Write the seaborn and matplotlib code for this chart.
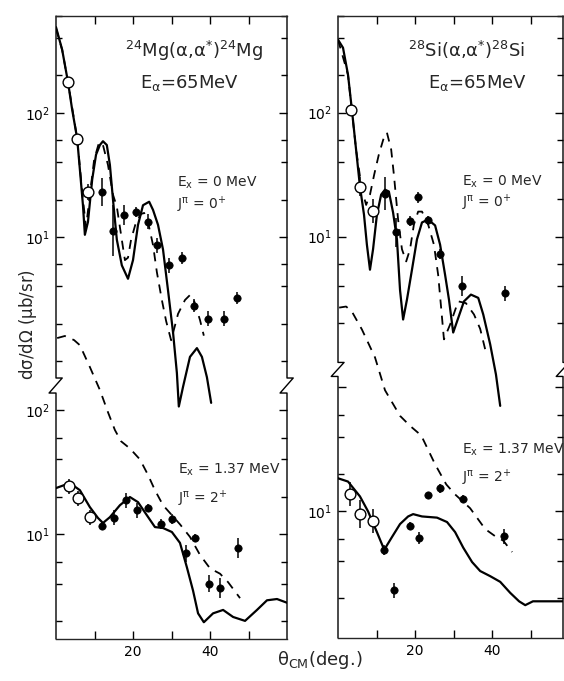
import matplotlib
matplotlib.use("Agg")
import matplotlib.pyplot as plt
import matplotlib.transforms as mtransforms
import numpy as np
import seaborn as sns

# ---------------- 24Mg, Ex = 0 MeV (0+) ----------------
mg0_solid_x = [0, 1.6, 3.1, 4.2, 5.5, 6.2, 7.0, 7.5, 8.3, 9.4, 10.4, 11.4, 12.2, 13.2, 14.0,
               14.8, 15.8, 17.1, 18.7, 20.0, 21.3, 22.6, 24.2, 25.2, 26.5, 27.8, 29.1, 30.4,
               31.4, 31.9, 33.0, 34.8, 36.6, 37.9, 39.2, 40.3]
mg0_solid_y = [490, 322, 178, 106, 62, 35, 18, 10.4, 13.2, 29, 46, 55, 59, 55, 38,
               20, 9.5, 5.9, 4.6, 6.5, 12.5, 18, 19.2, 16.5, 12.5, 7.9, 3.7, 1.7,
               0.8, 0.43, 0.62, 1.08, 1.27, 1.08, 0.74, 0.46]
mg0_dash_x = [0, 1.6, 3.1, 5.5, 7.0, 7.8, 8.8, 9.9, 11.2, 12.2, 13.5, 14.8, 15.8, 16.9, 17.9,
              18.7, 19.5, 20.8, 22.1, 22.9, 23.9, 25.2, 26.2, 27.5, 28.6, 29.9, 31.7, 33.5,
              34.8, 35.8, 37.4, 38.4]
mg0_dash_y = [480, 322, 178, 62, 20, 12, 21.8, 41.8, 58, 55, 38, 21.9, 17.5, 10.4, 6.5,
              6.8, 9.5, 13.2, 15.3, 15.6, 13.2, 8.6, 5.2, 3.1, 2.1, 1.47, 2.4, 3.1,
              3.4, 3.1, 2.14, 1.6]
mg0_open_x = [3.1, 5.5, 8.4]
mg0_open_y = [178, 62, 23]
mg0_open_err = [1.0, 1.0, 1.15]
mg0_fill_x = [11.9, 14.8, 17.7, 20.8, 23.9, 26.2, 29.4, 32.7, 35.8, 39.5, 43.6, 47.0]
mg0_fill_y = [23, 11.2, 15, 15.9, 13.2, 8.6, 5.9, 6.8, 2.8, 2.2, 2.2, 3.2]
mg0_fill_err = [1.3, 1.6, 1.2, 1.1, 1.15, 1.15, 1.15, 1.12, 1.12, 1.15, 1.15, 1.12]

# ---------------- 24Mg, Ex = 1.37 MeV (2+) ----------------
mg2_solid_x = [0, 3.6, 6.2, 8.8, 10.9, 12.2, 14.0, 16.6, 19.2, 21.3, 23.6, 25.7, 27.8, 30.1,
               32.2, 34.0, 35.6, 36.9, 38.4, 40.8, 43.4, 46.0, 49.1, 52.2, 54.8, 57.4, 60]
mg2_solid_y = [23.5, 25.8, 22.6, 16.5, 13.5, 12.3, 13.7, 17.1, 19.9, 18.1, 14.2, 11.4, 11.2, 10.4,
               8.5, 5.4, 3.5, 2.3, 1.95, 2.3, 2.45, 2.15, 2.0, 2.45, 2.93, 3.0, 2.8]
mg2_dash_x = [0.3, 2.3, 4.7, 6.2, 8.8, 11.4, 13.5, 15.3, 16.9, 19.2, 21.8, 23.9, 25.7, 27.8,
              29.6, 32.2, 34.8, 37.4, 40.0, 42.6, 44.7, 47.8]
mg2_dash_y = [380, 395, 366, 333, 222, 145, 96, 69, 56, 49, 40, 30, 22.6, 17.1,
              14.8, 12, 9.5, 6.8, 5.3, 4.8, 4.1, 3.05]
mg2_open_x = [3.4, 5.8, 8.8]
mg2_open_y = [24.4, 19.5, 13.7]
mg2_open_err = [1.15, 1.15, 1.15]
mg2_fill_x = [12.0, 15.1, 18.2, 21.1, 24.0, 27.2, 30.2, 33.7, 36.1, 39.8, 42.6, 47.2]
mg2_fill_y = [11.6, 13.5, 18.8, 15.6, 16.2, 12.0, 13.2, 7.0, 9.3, 4.0, 3.7, 7.7]
mg2_fill_err = [1.08, 1.15, 1.15, 1.15, 1.08, 1.1, 1.1, 1.17, 1.08, 1.17, 1.2, 1.2]

# ---------------- 28Si, Ex = 0 MeV (0+) ----------------
si0_solid_x = [0, 1.3, 2.6, 3.6, 4.7, 5.7, 6.75, 7.5, 8.3, 9.1, 10.1, 11.2, 12.2, 13.2, 14.3,
               15.3, 16.1, 16.9, 17.9, 19.2, 20.5, 21.8, 23.4, 25.2, 26.5, 27.8, 28.8, 29.9,
               31.2, 32.7, 34.5, 36.4, 37.7, 39.5, 41.0, 42.1]
si0_solid_y = [388, 334, 202, 106, 50, 25.3, 15, 8.6, 5.4, 7.9, 15, 21.8, 23.9, 23.1, 15.6,
               9.5, 3.7, 2.14, 3.1, 5.4, 9.5, 13, 13.7, 12.3, 8.6, 4.9, 3.1, 1.68,
               2.2, 3.0, 3.4, 3.2, 2.35, 1.35, 0.77, 0.43]
si0_dash_x = [0, 2.6, 4.7, 6.2, 7.3, 8.3, 9.4, 10.6, 11.9, 12.7, 13.8, 14.5, 15.6, 16.6, 17.7,
              18.7, 19.7, 20.8, 21.8, 23.4, 24.9, 26.0, 26.8, 27.5, 29.1, 31.2, 33.2, 35.3,
              36.9, 38.2]
si0_dash_y = [388, 202, 50, 24, 18, 21.8, 31.7, 45.9, 62.9, 69, 50.4, 31.7, 13.7, 7.9, 6.3,
              7.9, 12.5, 15.9, 15.9, 12.5, 8.6, 4.9, 2.6, 1.48, 1.95, 3.0, 2.9, 2.35,
              1.8, 1.23]
si0_open_x = [3.4, 5.7, 9.1]
si0_open_y = [106, 25.3, 16.2]
si0_open_err = [1.0, 1.2, 1.25]
si0_fill_x = [12.2, 15.1, 18.7, 20.8, 23.4, 26.5, 32.2, 43.4]
si0_fill_y = [22.2, 10.8, 13.3, 20.7, 13.5, 7.2, 4.0, 3.5]
si0_fill_err = [1.35, 1.3, 1.1, 1.1, 1.08, 1.1, 1.2, 1.15]

# ---------------- 28Si, Ex = 1.37 MeV (2+) ----------------
si2_solid_x = [0, 2.6, 5.7, 7.8, 10.1, 12.0, 14.0, 16.1, 18.2, 19.5, 21.8, 25.7, 28.3, 30.4,
               32.5, 34.8, 36.9, 39.5, 42.1, 44.7, 47.0, 48.6, 50.6, 54.3, 59]
si2_solid_y = [18.5, 17.4, 13.2, 10, 6.8, 4.9, 6.2, 7.9, 9.1, 9.5, 9.1, 8.9, 8.2, 6.8,
               5.1, 3.9, 3.3, 3.0, 2.7, 2.2, 1.88, 1.75, 1.88, 1.88, 1.88]
si2_dash_x = [0.3, 2.1, 3.6, 6.2, 9.6, 12.2, 16.1, 18.7, 21.6, 25.2, 28.1, 30.4, 34.3, 38.2,
              40.8, 42.9, 45.2]
si2_dash_y = [441, 450, 410, 294, 175, 95, 59, 49, 41, 24, 16.5, 13.7, 10.6, 7.2,
              6.3, 5.8, 4.7]
si2_open_x = [3.1, 5.7, 9.1]
si2_open_y = [13.7, 9.5, 8.3]
si2_open_err = [1.25, 1.3, 1.25]
si2_fill_x = [12.0, 14.5, 18.7, 21.0, 23.4, 26.5, 32.5, 43.1]
si2_fill_y = [4.9, 2.3, 7.6, 6.1, 13.5, 15.3, 12.7, 6.3]
si2_fill_err = [1.1, 1.15, 1.08, 1.12, 1.06, 1.08, 1.06, 1.15]

# the 2+ block shares the log axis with the 0+ block, shifted down
MG_SHIFT = 10 ** -2.395
SI_SHIFT = 10 ** -2.218
YLIM = (10 ** -2.24, 10 ** 2.78)

sns.set_style("ticks")
plt.rcParams["font.family"] = ["DejaVu Sans"]
plt.rcParams["mathtext.default"] = "regular"

fig = plt.figure(figsize=(5.64, 6.81), dpi=100)
ax_mg = fig.add_axes([56 / 564, 1 - 639 / 681, 231 / 564, 623 / 681])
ax_si = fig.add_axes([338 / 564, 1 - 638 / 681, 225 / 564, 622 / 681])


def draw_block(ax, sx, sy, dx, dy, ox, oy, oe, fx, fy, fe, scale=1.0):
    sns.lineplot(x=sx, y=np.array(sy) * scale, ax=ax, color="k", lw=1.6,
                 sort=False, estimator=None)
    sns.lineplot(x=dx, y=np.array(dy) * scale, ax=ax, color="k", lw=1.3,
                 sort=False, estimator=None, linestyle=(0, (5, 4)))
    for xs, ys, es in ((ox, oy, oe), (fx, fy, fe)):
        ys = np.array(ys) * scale
        es = np.array(es)
        ax.vlines(xs, ys / es, ys * es, color="k", lw=1.1, zorder=4)
    sns.scatterplot(x=ox, y=np.array(oy) * scale, ax=ax, s=60, marker="o",
                    facecolor="white", edgecolor="k", linewidth=1.0, zorder=5)
    sns.scatterplot(x=fx, y=np.array(fy) * scale, ax=ax, s=28, marker="o",
                    color="k", edgecolor="k", linewidth=0.5, zorder=5)


def style_axis(ax, xmax, shift, brk_top, brk_bot, lower_labels):
    ax.set_yscale("log")
    ax.set_ylim(*YLIM)
    ax.set_xlim(0, xmax)
    ax.set_xlabel("")
    ax.set_ylabel("")

    # major ticks: upper block 10^2, 10^1 ; lower block shifted
    major = [100, 10, 100 * shift, 10 * shift]
    labels = ["$10^2$", "$10^1$"] + lower_labels
    ax.set_yticks(major, labels)
    minor = []
    for d in (1, 10, 100):
        for m in (2, 4, 6):
            if m * d > brk_top * 1.15 and m * d < YLIM[1]:
                minor.append(m * d)
            v = m * d * shift
            if v < brk_bot / 1.15 and v > YLIM[0]:
                minor.append(v)
    if 1 > brk_top * 1.15:
        minor.append(1)
    ax.set_yticks(minor, minor=True)
    ax.yaxis.set_minor_formatter(matplotlib.ticker.NullFormatter())

    ax.set_xticks([10, 20, 30, 40, 50], ["", "20", "", "40", ""])
    ax.tick_params(which="both", direction="in", left=True, right=True,
                   top=True, bottom=True, labelsize=10, width=1.0, colors="k")
    ax.tick_params(which="major", length=6, pad=4)
    ax.tick_params(which="minor", length=4)

    # spines with the axis break
    for side in ("left", "right"):
        ax.spines[side].set_visible(False)
    for sp in ("top", "bottom"):
        ax.spines[sp].set_linewidth(1.0)
    trans = mtransforms.blended_transform_factory(ax.transAxes, ax.transData)
    for x0 in (0.0, 1.0):
        xs = [x0, x0, x0 + 0.027, x0 - 0.03, x0, x0]
        ys = [YLIM[1], brk_top, brk_top, brk_bot, brk_bot, YLIM[0]]
        ax.plot(xs, ys, color="k", lw=1.0, transform=trans, clip_on=False)


draw_block(ax_mg, mg0_solid_x, mg0_solid_y, mg0_dash_x, mg0_dash_y,
           mg0_open_x, mg0_open_y, mg0_open_err, mg0_fill_x, mg0_fill_y, mg0_fill_err)
draw_block(ax_mg, mg2_solid_x, mg2_solid_y, mg2_dash_x, mg2_dash_y,
           mg2_open_x, mg2_open_y, mg2_open_err, mg2_fill_x, mg2_fill_y, mg2_fill_err,
           scale=MG_SHIFT)
draw_block(ax_si, si0_solid_x, si0_solid_y, si0_dash_x, si0_dash_y,
           si0_open_x, si0_open_y, si0_open_err, si0_fill_x, si0_fill_y, si0_fill_err)
draw_block(ax_si, si2_solid_x, si2_solid_y, si2_dash_x, si2_dash_y,
           si2_open_x, si2_open_y, si2_open_err, si2_fill_x, si2_fill_y, si2_fill_err,
           scale=SI_SHIFT)

style_axis(ax_mg, 60, MG_SHIFT, 10 ** -0.137, 10 ** -0.258, ["$10^2$", "$10^1$"])
style_axis(ax_si, 58.4, SI_SHIFT, 10 ** -0.016, 10 ** -0.129, ["", "$10^1$"])

# annotations
ax_mg.text(0.30, 0.934, r"$^{24}$Mg($\alpha$,$\alpha^{*}$)$^{24}$Mg", transform=ax_mg.transAxes,
           fontsize=13, va="baseline")
ax_mg.text(0.364, 0.884, r"E$_{\alpha}$=65MeV", transform=ax_mg.transAxes,
           fontsize=13, va="baseline")
ax_mg.text(0.524, 0.726, r"E$_{x}$ = 0 MeV", transform=ax_mg.transAxes, fontsize=10, va="baseline")
ax_mg.text(0.524, 0.689, r"J$^{\pi}$ = 0$^{+}$", transform=ax_mg.transAxes, fontsize=10, va="baseline")
ax_mg.text(0.528, 0.265, r"E$_{x}$ = 1.37 MeV", transform=ax_mg.transAxes, fontsize=10, va="baseline")
ax_mg.text(0.528, 0.218, r"J$^{\pi}$ = 2$^{+}$", transform=ax_mg.transAxes, fontsize=10, va="baseline")

ax_si.text(0.311, 0.934, r"$^{28}$Si($\alpha$,$\alpha^{*}$)$^{28}$Si", transform=ax_si.transAxes,
           fontsize=13, va="baseline")
ax_si.text(0.40, 0.884, r"E$_{\alpha}$=65MeV", transform=ax_si.transAxes,
           fontsize=13, va="baseline")
ax_si.text(0.551, 0.727, r"E$_{x}$ = 0 MeV", transform=ax_si.transAxes, fontsize=10, va="baseline")
ax_si.text(0.551, 0.692, r"J$^{\pi}$ = 0$^{+}$", transform=ax_si.transAxes, fontsize=10, va="baseline")
ax_si.text(0.551, 0.297, r"E$_{x}$ = 1.37 MeV", transform=ax_si.transAxes, fontsize=10, va="baseline")
ax_si.text(0.551, 0.25, r"J$^{\pi}$ = 2$^{+}$", transform=ax_si.transAxes, fontsize=10, va="baseline")

fig.text(28 / 564, 1 - 324 / 681, r"d$\sigma$/d$\Omega$ ($\mu$b/sr)", rotation=90,
         fontsize=12, ha="center", va="center")
fig.text(277 / 564, 1 - 665 / 681, r"$\theta_{CM}$(deg.)", fontsize=13, ha="left", va="baseline")

fig.savefig("out.png", dpi=100, facecolor="white")
plt.close(fig)
